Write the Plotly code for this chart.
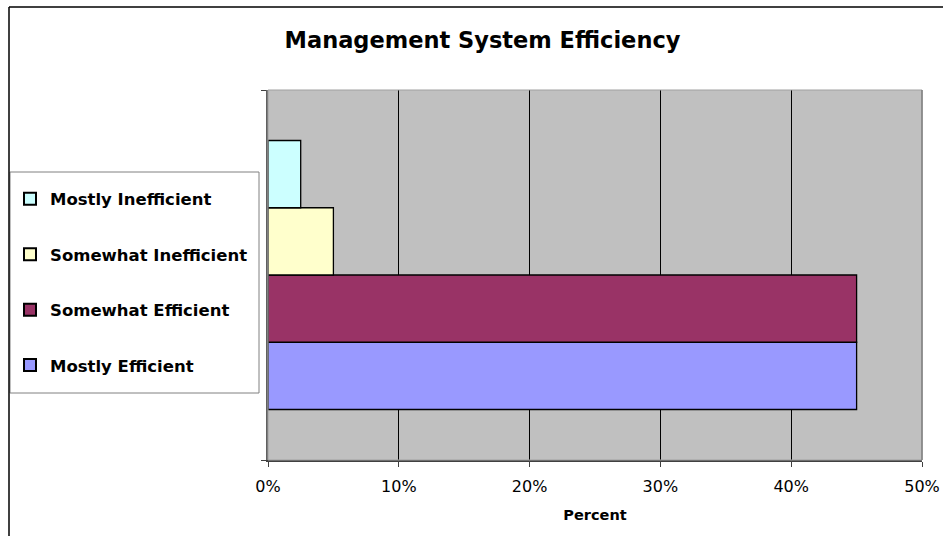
import plotly.graph_objects as go

categories = ["Mostly Efficient", "Somewhat Efficient", "Somewhat Inefficient", "Mostly Inefficient"]
values = [45, 45, 5, 2.5]
colors = ["#9999FF", "#993366", "#FFFFCC", "#CCFFFF"]
x_ticks = [0, 10, 20, 30, 40, 50]
x_tick_labels = ["0%", "10%", "20%", "30%", "40%", "50%"]

FONT = "Verdana, DejaVu Sans, sans-serif"
W, H = 943, 536
L, R, T, B = 268, 21, 90, 76
PW, PH = W - L - R, H - T - B


def px(x):
    return (x - L) / PW


def py(y):
    return 1 - (y - T) / PH


fig = go.Figure()
n = len(categories)
for i, (name, v, c) in enumerate(zip(categories, values, colors)):
    fig.add_trace(go.Bar(
        x=[v], y=[""], orientation="h", name="<b>" + name + "</b>",
        marker=dict(color=c, line=dict(color="black", width=1.3)),
        legendgroup=f"g{i}", legendrank=n - i,
        hovertemplate=name + ": %{x}%<extra></extra>",
    ))

fig.update_layout(
    width=W, height=H,
    paper_bgcolor="white", plot_bgcolor="#C0C0C0",
    margin=dict(l=L, r=R, t=T, b=B, autoexpand=False),
    barmode="group", bargap=0.273, bargroupgap=0,
    title=dict(text="<b>Management System Efficiency</b>", x=482.5 / W, xanchor="center",
               y=1 - 40 / H, yanchor="middle",
               font=dict(family=FONT, size=22.5, color="black")),
    font=dict(family=FONT, color="black"),
    showlegend=True,
    legend=dict(
        x=10 / W, xref="container", xanchor="left",
        y=1 - 282 / H, yref="container", yanchor="middle",
        traceorder="grouped", tracegroupgap=31,
        bgcolor="rgba(0,0,0,0)", borderwidth=0,
        font=dict(family=FONT, size=16.5, color="black"),
        itemsizing="constant", itemwidth=30,
    ),
    xaxis=dict(
        range=[0, 50], tickvals=x_ticks, ticktext=x_tick_labels,
        showgrid=True, gridcolor="black", gridwidth=1,
        ticks="outside", ticklen=5, tickcolor="#404040",
        showline=True, linecolor="#404040", linewidth=2,
        mirror=False, zeroline=False,
        tickfont=dict(family=FONT, size=16, color="black"),
        ticklabelstandoff=6,
        title=dict(text="<b>Percent</b>", font=dict(family=FONT, size=14.5, color="black"),
                   standoff=15),
        fixedrange=True,
    ),
    yaxis=dict(
        type="category", showticklabels=False, tickson="boundaries",
        ticks="outside", ticklen=5, tickcolor="#404040",
        showline=True, linecolor="#606060", linewidth=2,
        showgrid=False, fixedrange=True,
    ),
    shapes=[
        dict(type="rect", xref="paper", yref="paper", x0=0, x1=1, y0=0, y1=1,
             line=dict(color="#A0A0A0", width=1), layer="above"),
        dict(type="line", xref="paper", yref="paper", x0=1, x1=1, y0=0, y1=1,
             line=dict(color="#808080", width=1.5)),
        # legend box
        dict(type="rect", xref="paper", yref="paper",
             x0=px(10), x1=px(259), y0=py(393), y1=py(172),
             fillcolor="white", line=dict(color="#808080", width=1), layer="above"),
        # outer chart border (top & left visible)
        dict(type="line", xref="paper", yref="paper",
             x0=px(9), x1=1.2, y0=py(7), y1=py(7),
             line=dict(color="black", width=1.5)),
        dict(type="line", xref="paper", yref="paper",
             x0=px(9), x1=px(9), y0=-0.5, y1=py(7),
             line=dict(color="black", width=1.5)),
    ],
)

fig.write_html("out.html", config={"displayModeBar": False},
               post_script="document.body.style.margin='0';")
